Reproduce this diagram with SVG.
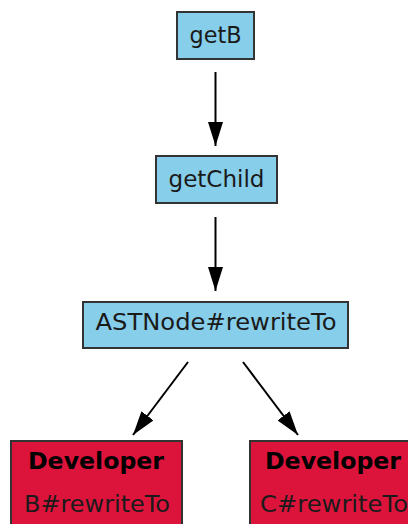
<svg xmlns="http://www.w3.org/2000/svg" width="408" height="524" viewBox="0 0 408 524">
<style>
.n{fill:#87CEEB;stroke:#333;stroke-width:2}
.d{fill:#DC143C;stroke:#333;stroke-width:2}
.t{font-family:"DejaVu Sans",sans-serif;font-size:23px;fill:#1a1a1a;text-anchor:middle}
.b{font-weight:bold;fill:#000}
.e{stroke:#000;stroke-width:2;fill:none}
</style>
<defs>
<marker id="ah" viewBox="0 0 24 15" refX="24" refY="7.5" markerWidth="24" markerHeight="15" markerUnits="userSpaceOnUse" orient="auto">
<path d="M0,0 L24,7.5 L0,15 Z" fill="#000"/>
</marker>
</defs>
<rect width="408" height="524" fill="#fff"/>
<g id="connectors">
<line class="e" x1="215.5" y1="72" x2="215.5" y2="146" marker-end="url(#ah)"/>
<line class="e" x1="215.5" y1="217" x2="215.5" y2="291" marker-end="url(#ah)"/>
<line class="e" x1="188" y1="362" x2="133" y2="435" marker-end="url(#ah)"/>
<line class="e" x1="243" y1="362" x2="298" y2="435" marker-end="url(#ah)"/>
</g>
<g id="getB">
<rect class="n" x="177" y="12" width="77" height="47"/>
<text class="t" x="215.5" y="43" textLength="52" lengthAdjust="spacingAndGlyphs">getB</text>
</g>
<g id="getChild">
<rect class="n" x="156" y="156" width="121" height="47"/>
<text class="t" x="216.5" y="187" textLength="96" lengthAdjust="spacingAndGlyphs">getChild</text>
</g>
<g id="ASTNode">
<rect class="n" x="83" y="302" width="265" height="46"/>
<text class="t" x="216" y="330" textLength="241" lengthAdjust="spacingAndGlyphs">ASTNode#rewriteTo</text>
</g>
<g id="DeveloperB">
<rect class="d" x="11" y="441" width="171" height="100"/>
<text class="t b" x="96" y="469" textLength="136" lengthAdjust="spacingAndGlyphs">Developer</text>
<text class="t" x="97" y="512" textLength="146" lengthAdjust="spacingAndGlyphs">B#rewriteTo</text>
</g>
<g id="DeveloperC">
<rect class="d" x="250" y="441" width="171" height="100"/>
<text class="t b" x="333" y="469" textLength="136" lengthAdjust="spacingAndGlyphs">Developer</text>
<text class="t" x="334" y="512" textLength="148" lengthAdjust="spacingAndGlyphs">C#rewriteTo</text>
</g>
</svg>
